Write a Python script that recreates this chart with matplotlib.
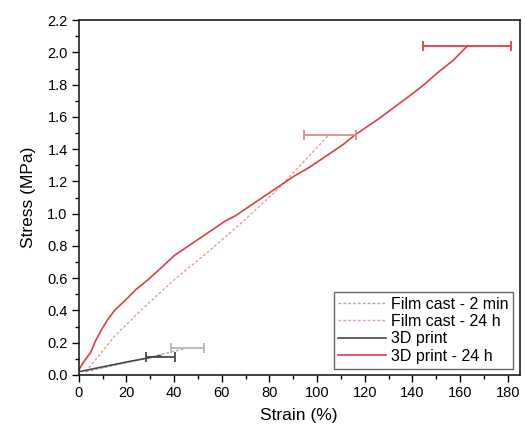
import numpy as np
import matplotlib
matplotlib.use("Agg")
import matplotlib.pyplot as plt
from matplotlib.ticker import MultipleLocator

plt.rcParams['font.family'] = ['Liberation Sans', 'DejaVu Sans']

# ============= DATA =============
film2min_strain = [3, 15, 30, 38, 45]
film2min_stress = [0.02, 0.06, 0.11, 0.14, 0.165]

film24_strain = [3, 9, 15, 26, 40, 54, 68, 82, 91, 98, 105]
film24_stress = [0.02, 0.13, 0.24, 0.40, 0.59, 0.76, 0.94, 1.13, 1.27, 1.38, 1.49]

print_strain = [0, 10, 20, 34.3]
print_stress = [0.02, 0.05, 0.08, 0.12]

print24_strain = [0, 2, 5, 7, 9.5, 12, 15, 20, 24, 29, 35, 40, 46, 53, 61, 66, 72,
                  78, 84, 90, 97, 105, 111, 116, 125, 136, 144, 151, 157, 163]
print24_stress = [0.03, 0.08, 0.14, 0.21, 0.28, 0.34, 0.40, 0.47, 0.53, 0.59, 0.67,
                  0.74, 0.80, 0.87, 0.95, 0.99, 1.05, 1.11, 1.17, 1.23, 1.29, 1.37,
                  1.43, 1.49, 1.58, 1.70, 1.79, 1.88, 1.95, 2.04]

# break points with strain error (mean, +/-)
err_strain = [45.7, 105.3, 34.2, 163.0]
err_stress = [0.165, 1.487, 0.113, 2.04]
err_xerr = [6.9, 10.8, 6.1, 18.5]

labels = ["Film cast - 2 min", "Film cast - 24 h", "3D print", "3D print - 24 h"]
colors = ["#a8a8a8", "#e89a9a", "#484848", "#e23c44"]
err_colors = ["#b8b8b8", "#e08a8a", "#484848", "#e23c44"]

# ============= PLOT =============
fig = plt.figure(figsize=(5.25, 4.3), dpi=100)
ax = fig.add_axes([0.150, 0.128, 0.840, 0.825])

ax.plot(film2min_strain, film2min_stress, ls=(0, (2, 1.5)), lw=1.0, color=colors[0], label=labels[0])
ax.plot(film24_strain, film24_stress, ls=(0, (2, 1.5)), lw=1.0, color=colors[1], label=labels[1])
ax.plot(print_strain, print_stress, ls='-', lw=1.2, color=colors[2], label=labels[2])
ax.plot(print24_strain, print24_stress, ls='-', lw=1.2, color=colors[3], label=labels[3])

for i in range(4):
    ax.errorbar(err_strain[i], err_stress[i], xerr=err_xerr[i], fmt='none',
                ecolor=err_colors[i], elinewidth=1.3, capsize=3.5, capthick=1.3)

ax.set_xlim(0, 185)
ax.set_ylim(0, 2.2)
ax.xaxis.set_major_locator(MultipleLocator(20))
ax.xaxis.set_minor_locator(MultipleLocator(10))
ax.yaxis.set_major_locator(MultipleLocator(0.2))
ax.yaxis.set_minor_locator(MultipleLocator(0.1))
ax.yaxis.set_major_formatter(matplotlib.ticker.FormatStrFormatter('%.1f'))
ax.tick_params(which='major', direction='out', length=5, width=1.0, labelsize=10.5, pad=3)
ax.tick_params(which='minor', direction='out', length=3, width=1.0)
for s in ax.spines.values():
    s.set_linewidth(1.2)
    s.set_color('#202020')

ax.set_xlabel("Strain (%)", fontsize=12.5, labelpad=6)
ax.set_ylabel("Stress (MPa)", fontsize=12.5, labelpad=8)

leg = ax.legend(loc='lower right', fontsize=11.5, frameon=True, fancybox=False,
                edgecolor='#404040', handlelength=3.0, handletextpad=0.3,
                labelspacing=0.15, borderpad=0.3, borderaxespad=0.4)
leg.get_frame().set_linewidth(1.0)

plt.savefig("out.png", dpi=100)
